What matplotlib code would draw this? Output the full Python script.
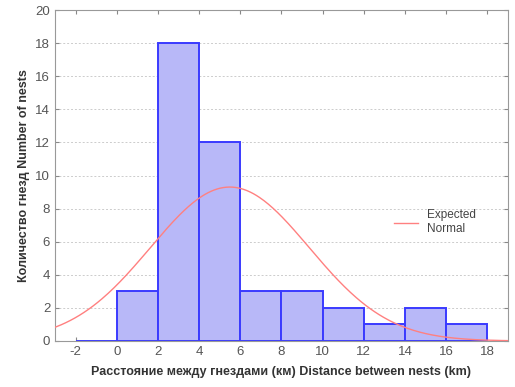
import numpy as np
import matplotlib
matplotlib.use("Agg")
import matplotlib.pyplot as plt

plt.rcParams['font.family'] = ['Liberation Sans', 'DejaVu Sans']
plt.rcParams['axes.unicode_minus'] = False

bin_edges = [-2, 0, 2, 4, 6, 8, 10, 12, 14, 16, 18]
counts = [0, 3, 18, 12, 3, 3, 2, 1, 2, 1]
fit_mean = 5.49
fit_sd = 3.86

fig = plt.figure(figsize=(5.15, 3.87), dpi=100)
ax = fig.add_axes([0.107, 0.119, 0.879, 0.855])

lefts = np.array(bin_edges[:-1])
widths = np.diff(bin_edges)
ax.bar(lefts, counts, width=widths, align='edge', color='#b8b8f8',
       edgecolor='#3a3aff', linewidth=1.4, zorder=2)

n = sum(counts)
bw = 2
xs = np.linspace(-3, 19, 300)
ys = n * bw / (fit_sd * np.sqrt(2 * np.pi)) * np.exp(-0.5 * ((xs - fit_mean) / fit_sd) ** 2)
ax.plot(xs, ys, color='#ff8080', linewidth=1.0, zorder=3, label='Expected\nNormal')

ax.set_xlim(-3, 19)
ax.set_ylim(0, 20)
ax.set_xticks(range(-2, 19, 2))
ax.set_yticks(range(0, 21, 2))
ax.yaxis.grid(True, linestyle=(0, (2, 2)), color='#cccccc', linewidth=0.7, zorder=0)
ax.set_axisbelow(True)
ax.tick_params(direction='in', length=3, colors='#888888', labelcolor='#555555',
               labelsize=9.5, top=True, right=True)
for s in ax.spines.values():
    s.set_color('#999999')

ax.set_xlabel('Расстояние между гнездами (км) Distance between nests (km)',
              fontsize=9, fontweight='bold', color='#333333', labelpad=6)
ax.set_ylabel('Количество гнезд Number of nests', fontsize=9, fontweight='bold',
              color='#333333', labelpad=4)

leg = ax.legend(loc='upper left', bbox_to_anchor=(0.725, 0.43), frameon=False,
                fontsize=8.5, handlelength=2.0, labelcolor='#444444')

fig.savefig('out.png', dpi=100)
